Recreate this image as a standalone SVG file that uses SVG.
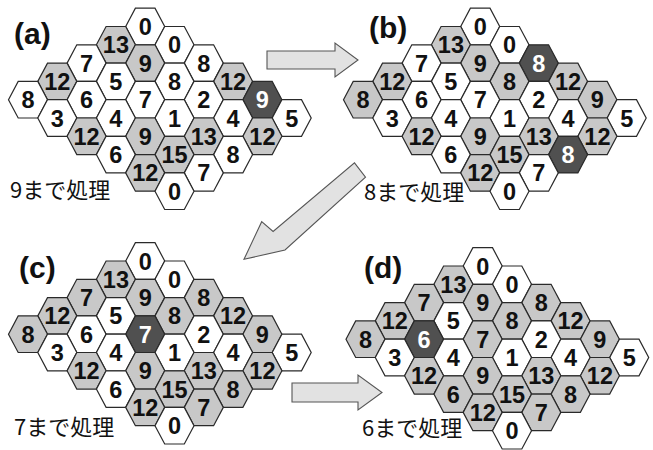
<svg xmlns="http://www.w3.org/2000/svg" xmlns:xlink="http://www.w3.org/1999/xlink" width="653" height="450" viewBox="0 0 653 450">
<style>
.w{fill:#ffffff}.g{fill:#c8c8c8}.d{fill:#505050}
.hx{stroke:#2a2a2a;stroke-width:1.2;stroke-linejoin:miter}
text.n{font-family:"Liberation Sans",Arial,sans-serif;font-weight:bold;font-size:23.5px;text-anchor:middle;fill:#111}
g.dk text.n{fill:#ffffff}
.lab{font-family:"Liberation Sans",Arial,sans-serif;font-weight:bold;font-size:30px;fill:#111}
.cap{font-family:"Noto Sans CJK JP","Noto Sans",sans-serif;font-size:22px;fill:#111}
.arr{fill:#e2e2e2;stroke:#555;stroke-width:1.1;stroke-linejoin:miter}
</style>
<defs>
<polygon id="h" class="hx" points="-19.5,0 -9.8,-18.3 9.8,-18.3 19.5,0 9.8,18.3 -9.8,18.3"/>
</defs>

<g id="connectors">
<polygon class="arr" points="267,51 335,51 335,43 358,60 335,77 335,69 267,69"/>
<polygon class="arr" points="354.5,162.9 365.5,177.1 285,250 244,259.3 261.7,221.7 273.1,231.5"/>
<polygon class="arr" points="292,383 358,383 358,375 382,392.5 358,410 358,402 292,402"/>
</g>

<g id="panel-a">
<text class="lab" x="14" y="44">(a)</text>
<text class="cap" x="10" y="198">9まで処理</text>
<g id="grid-a">
<g id="a-0-4" transform="translate(145.2,26.5)"><use href="#h" class="w"/><text class="n" y="8.5">0</text></g>
<g id="a-1-3" transform="translate(115.9,44.8)"><use href="#h" class="g"/><text class="n" y="8.5">13</text></g>
<g id="a-1-5" transform="translate(174.5,44.8)"><use href="#h" class="w"/><text class="n" y="8.5">0</text></g>
<g id="a-2-2" transform="translate(86.6,63.1)"><use href="#h" class="w"/><text class="n" y="8.5">7</text></g>
<g id="a-2-4" transform="translate(145.2,63.1)"><use href="#h" class="g"/><text class="n" y="8.5">9</text></g>
<g id="a-2-6" transform="translate(203.8,63.1)"><use href="#h" class="w"/><text class="n" y="8.5">8</text></g>
<g id="a-3-1" transform="translate(57.3,81.4)"><use href="#h" class="g"/><text class="n" y="8.5">12</text></g>
<g id="a-3-3" transform="translate(115.9,81.4)"><use href="#h" class="w"/><text class="n" y="8.5">5</text></g>
<g id="a-3-5" transform="translate(174.5,81.4)"><use href="#h" class="w"/><text class="n" y="8.5">8</text></g>
<g id="a-3-7" transform="translate(233.1,81.4)"><use href="#h" class="g"/><text class="n" y="8.5">12</text></g>
<g id="a-4-0" transform="translate(28,99.7)"><use href="#h" class="w"/><text class="n" y="8.5">8</text></g>
<g id="a-4-2" transform="translate(86.6,99.7)"><use href="#h" class="w"/><text class="n" y="8.5">6</text></g>
<g id="a-4-4" transform="translate(145.2,99.7)"><use href="#h" class="w"/><text class="n" y="8.5">7</text></g>
<g id="a-4-6" transform="translate(203.8,99.7)"><use href="#h" class="w"/><text class="n" y="8.5">2</text></g>
<g id="a-4-8" class="dk" transform="translate(262.4,99.7)"><use href="#h" class="d"/><text class="n" y="8.5">9</text></g>
<g id="a-5-1" transform="translate(57.3,118)"><use href="#h" class="w"/><text class="n" y="8.5">3</text></g>
<g id="a-5-3" transform="translate(115.9,118)"><use href="#h" class="w"/><text class="n" y="8.5">4</text></g>
<g id="a-5-5" transform="translate(174.5,118)"><use href="#h" class="w"/><text class="n" y="8.5">1</text></g>
<g id="a-5-7" transform="translate(233.1,118)"><use href="#h" class="w"/><text class="n" y="8.5">4</text></g>
<g id="a-5-9" transform="translate(291.7,118)"><use href="#h" class="w"/><text class="n" y="8.5">5</text></g>
<g id="a-6-2" transform="translate(86.6,136.3)"><use href="#h" class="g"/><text class="n" y="8.5">12</text></g>
<g id="a-6-4" transform="translate(145.2,136.3)"><use href="#h" class="g"/><text class="n" y="8.5">9</text></g>
<g id="a-6-6" transform="translate(203.8,136.3)"><use href="#h" class="g"/><text class="n" y="8.5">13</text></g>
<g id="a-6-8" transform="translate(262.4,136.3)"><use href="#h" class="g"/><text class="n" y="8.5">12</text></g>
<g id="a-7-3" transform="translate(115.9,154.6)"><use href="#h" class="w"/><text class="n" y="8.5">6</text></g>
<g id="a-7-5" transform="translate(174.5,154.6)"><use href="#h" class="g"/><text class="n" y="8.5">15</text></g>
<g id="a-7-7" transform="translate(233.1,154.6)"><use href="#h" class="w"/><text class="n" y="8.5">8</text></g>
<g id="a-8-4" transform="translate(145.2,172.9)"><use href="#h" class="g"/><text class="n" y="8.5">12</text></g>
<g id="a-8-6" transform="translate(203.8,172.9)"><use href="#h" class="w"/><text class="n" y="8.5">7</text></g>
<g id="a-9-5" transform="translate(174.5,191.2)"><use href="#h" class="w"/><text class="n" y="8.5">0</text></g>
</g>
</g>

<g id="panel-b">
<text class="lab" x="369" y="38">(b)</text>
<text class="cap" x="364" y="200">8まで処理</text>
<g id="grid-b" transform="translate(335,0)">
<g id="b-0-4" transform="translate(145.2,26.5)"><use href="#h" class="w"/><text class="n" y="8.5">0</text></g>
<g id="b-1-3" transform="translate(115.9,44.8)"><use href="#h" class="g"/><text class="n" y="8.5">13</text></g>
<g id="b-1-5" transform="translate(174.5,44.8)"><use href="#h" class="w"/><text class="n" y="8.5">0</text></g>
<g id="b-2-2" transform="translate(86.6,63.1)"><use href="#h" class="w"/><text class="n" y="8.5">7</text></g>
<g id="b-2-4" transform="translate(145.2,63.1)"><use href="#h" class="g"/><text class="n" y="8.5">9</text></g>
<g id="b-2-6" class="dk" transform="translate(203.8,63.1)"><use href="#h" class="d"/><text class="n" y="8.5">8</text></g>
<g id="b-3-1" transform="translate(57.3,81.4)"><use href="#h" class="g"/><text class="n" y="8.5">12</text></g>
<g id="b-3-3" transform="translate(115.9,81.4)"><use href="#h" class="w"/><text class="n" y="8.5">5</text></g>
<g id="b-3-5" transform="translate(174.5,81.4)"><use href="#h" class="g"/><text class="n" y="8.5">8</text></g>
<g id="b-3-7" transform="translate(233.1,81.4)"><use href="#h" class="g"/><text class="n" y="8.5">12</text></g>
<g id="b-4-0" transform="translate(28,99.7)"><use href="#h" class="g"/><text class="n" y="8.5">8</text></g>
<g id="b-4-2" transform="translate(86.6,99.7)"><use href="#h" class="w"/><text class="n" y="8.5">6</text></g>
<g id="b-4-4" transform="translate(145.2,99.7)"><use href="#h" class="w"/><text class="n" y="8.5">7</text></g>
<g id="b-4-6" transform="translate(203.8,99.7)"><use href="#h" class="w"/><text class="n" y="8.5">2</text></g>
<g id="b-4-8" transform="translate(262.4,99.7)"><use href="#h" class="g"/><text class="n" y="8.5">9</text></g>
<g id="b-5-1" transform="translate(57.3,118)"><use href="#h" class="w"/><text class="n" y="8.5">3</text></g>
<g id="b-5-3" transform="translate(115.9,118)"><use href="#h" class="w"/><text class="n" y="8.5">4</text></g>
<g id="b-5-5" transform="translate(174.5,118)"><use href="#h" class="w"/><text class="n" y="8.5">1</text></g>
<g id="b-5-7" transform="translate(233.1,118)"><use href="#h" class="w"/><text class="n" y="8.5">4</text></g>
<g id="b-5-9" transform="translate(291.7,118)"><use href="#h" class="w"/><text class="n" y="8.5">5</text></g>
<g id="b-6-2" transform="translate(86.6,136.3)"><use href="#h" class="g"/><text class="n" y="8.5">12</text></g>
<g id="b-6-4" transform="translate(145.2,136.3)"><use href="#h" class="g"/><text class="n" y="8.5">9</text></g>
<g id="b-6-6" transform="translate(203.8,136.3)"><use href="#h" class="g"/><text class="n" y="8.5">13</text></g>
<g id="b-6-8" transform="translate(262.4,136.3)"><use href="#h" class="g"/><text class="n" y="8.5">12</text></g>
<g id="b-7-3" transform="translate(115.9,154.6)"><use href="#h" class="w"/><text class="n" y="8.5">6</text></g>
<g id="b-7-5" transform="translate(174.5,154.6)"><use href="#h" class="g"/><text class="n" y="8.5">15</text></g>
<g id="b-7-7" class="dk" transform="translate(233.1,154.6)"><use href="#h" class="d"/><text class="n" y="8.5">8</text></g>
<g id="b-8-4" transform="translate(145.2,172.9)"><use href="#h" class="g"/><text class="n" y="8.5">12</text></g>
<g id="b-8-6" transform="translate(203.8,172.9)"><use href="#h" class="w"/><text class="n" y="8.5">7</text></g>
<g id="b-9-5" transform="translate(174.5,191.2)"><use href="#h" class="w"/><text class="n" y="8.5">0</text></g>
</g>
</g>

<g id="panel-c">
<text class="lab" x="19" y="278">(c)</text>
<text class="cap" x="14" y="435">7まで処理</text>
<g id="grid-c" transform="translate(0,234.5)">
<g id="c-0-4" transform="translate(145.2,26.5)"><use href="#h" class="w"/><text class="n" y="8.5">0</text></g>
<g id="c-1-3" transform="translate(115.9,44.8)"><use href="#h" class="g"/><text class="n" y="8.5">13</text></g>
<g id="c-1-5" transform="translate(174.5,44.8)"><use href="#h" class="w"/><text class="n" y="8.5">0</text></g>
<g id="c-2-2" transform="translate(86.6,63.1)"><use href="#h" class="g"/><text class="n" y="8.5">7</text></g>
<g id="c-2-4" transform="translate(145.2,63.1)"><use href="#h" class="g"/><text class="n" y="8.5">9</text></g>
<g id="c-2-6" transform="translate(203.8,63.1)"><use href="#h" class="g"/><text class="n" y="8.5">8</text></g>
<g id="c-3-1" transform="translate(57.3,81.4)"><use href="#h" class="g"/><text class="n" y="8.5">12</text></g>
<g id="c-3-3" transform="translate(115.9,81.4)"><use href="#h" class="w"/><text class="n" y="8.5">5</text></g>
<g id="c-3-5" transform="translate(174.5,81.4)"><use href="#h" class="g"/><text class="n" y="8.5">8</text></g>
<g id="c-3-7" transform="translate(233.1,81.4)"><use href="#h" class="g"/><text class="n" y="8.5">12</text></g>
<g id="c-4-0" transform="translate(28,99.7)"><use href="#h" class="g"/><text class="n" y="8.5">8</text></g>
<g id="c-4-2" transform="translate(86.6,99.7)"><use href="#h" class="w"/><text class="n" y="8.5">6</text></g>
<g id="c-4-4" class="dk" transform="translate(145.2,99.7)"><use href="#h" class="d"/><text class="n" y="8.5">7</text></g>
<g id="c-4-6" transform="translate(203.8,99.7)"><use href="#h" class="w"/><text class="n" y="8.5">2</text></g>
<g id="c-4-8" transform="translate(262.4,99.7)"><use href="#h" class="g"/><text class="n" y="8.5">9</text></g>
<g id="c-5-1" transform="translate(57.3,118)"><use href="#h" class="w"/><text class="n" y="8.5">3</text></g>
<g id="c-5-3" transform="translate(115.9,118)"><use href="#h" class="w"/><text class="n" y="8.5">4</text></g>
<g id="c-5-5" transform="translate(174.5,118)"><use href="#h" class="w"/><text class="n" y="8.5">1</text></g>
<g id="c-5-7" transform="translate(233.1,118)"><use href="#h" class="w"/><text class="n" y="8.5">4</text></g>
<g id="c-5-9" transform="translate(291.7,118)"><use href="#h" class="w"/><text class="n" y="8.5">5</text></g>
<g id="c-6-2" transform="translate(86.6,136.3)"><use href="#h" class="g"/><text class="n" y="8.5">12</text></g>
<g id="c-6-4" transform="translate(145.2,136.3)"><use href="#h" class="g"/><text class="n" y="8.5">9</text></g>
<g id="c-6-6" transform="translate(203.8,136.3)"><use href="#h" class="g"/><text class="n" y="8.5">13</text></g>
<g id="c-6-8" transform="translate(262.4,136.3)"><use href="#h" class="g"/><text class="n" y="8.5">12</text></g>
<g id="c-7-3" transform="translate(115.9,154.6)"><use href="#h" class="w"/><text class="n" y="8.5">6</text></g>
<g id="c-7-5" transform="translate(174.5,154.6)"><use href="#h" class="g"/><text class="n" y="8.5">15</text></g>
<g id="c-7-7" transform="translate(233.1,154.6)"><use href="#h" class="g"/><text class="n" y="8.5">8</text></g>
<g id="c-8-4" transform="translate(145.2,172.9)"><use href="#h" class="g"/><text class="n" y="8.5">12</text></g>
<g id="c-8-6" transform="translate(203.8,172.9)"><use href="#h" class="g"/><text class="n" y="8.5">7</text></g>
<g id="c-9-5" transform="translate(174.5,191.2)"><use href="#h" class="w"/><text class="n" y="8.5">0</text></g>
</g>
</g>

<g id="panel-d">
<text class="lab" x="364" y="278">(d)</text>
<text class="cap" x="362" y="436">6まで処理</text>
<g id="grid-d" transform="translate(337.5,239.5)">
<g id="d-0-4" transform="translate(145.2,26.5)"><use href="#h" class="w"/><text class="n" y="8.5">0</text></g>
<g id="d-1-3" transform="translate(115.9,44.8)"><use href="#h" class="g"/><text class="n" y="8.5">13</text></g>
<g id="d-1-5" transform="translate(174.5,44.8)"><use href="#h" class="w"/><text class="n" y="8.5">0</text></g>
<g id="d-2-2" transform="translate(86.6,63.1)"><use href="#h" class="g"/><text class="n" y="8.5">7</text></g>
<g id="d-2-4" transform="translate(145.2,63.1)"><use href="#h" class="g"/><text class="n" y="8.5">9</text></g>
<g id="d-2-6" transform="translate(203.8,63.1)"><use href="#h" class="g"/><text class="n" y="8.5">8</text></g>
<g id="d-3-1" transform="translate(57.3,81.4)"><use href="#h" class="g"/><text class="n" y="8.5">12</text></g>
<g id="d-3-3" transform="translate(115.9,81.4)"><use href="#h" class="w"/><text class="n" y="8.5">5</text></g>
<g id="d-3-5" transform="translate(174.5,81.4)"><use href="#h" class="g"/><text class="n" y="8.5">8</text></g>
<g id="d-3-7" transform="translate(233.1,81.4)"><use href="#h" class="g"/><text class="n" y="8.5">12</text></g>
<g id="d-4-0" transform="translate(28,99.7)"><use href="#h" class="g"/><text class="n" y="8.5">8</text></g>
<g id="d-4-2" class="dk" transform="translate(86.6,99.7)"><use href="#h" class="d"/><text class="n" y="8.5">6</text></g>
<g id="d-4-4" transform="translate(145.2,99.7)"><use href="#h" class="g"/><text class="n" y="8.5">7</text></g>
<g id="d-4-6" transform="translate(203.8,99.7)"><use href="#h" class="w"/><text class="n" y="8.5">2</text></g>
<g id="d-4-8" transform="translate(262.4,99.7)"><use href="#h" class="g"/><text class="n" y="8.5">9</text></g>
<g id="d-5-1" transform="translate(57.3,118)"><use href="#h" class="w"/><text class="n" y="8.5">3</text></g>
<g id="d-5-3" transform="translate(115.9,118)"><use href="#h" class="w"/><text class="n" y="8.5">4</text></g>
<g id="d-5-5" transform="translate(174.5,118)"><use href="#h" class="w"/><text class="n" y="8.5">1</text></g>
<g id="d-5-7" transform="translate(233.1,118)"><use href="#h" class="w"/><text class="n" y="8.5">4</text></g>
<g id="d-5-9" transform="translate(291.7,118)"><use href="#h" class="w"/><text class="n" y="8.5">5</text></g>
<g id="d-6-2" transform="translate(86.6,136.3)"><use href="#h" class="g"/><text class="n" y="8.5">12</text></g>
<g id="d-6-4" transform="translate(145.2,136.3)"><use href="#h" class="g"/><text class="n" y="8.5">9</text></g>
<g id="d-6-6" transform="translate(203.8,136.3)"><use href="#h" class="g"/><text class="n" y="8.5">13</text></g>
<g id="d-6-8" transform="translate(262.4,136.3)"><use href="#h" class="g"/><text class="n" y="8.5">12</text></g>
<g id="d-7-3" transform="translate(115.9,154.6)"><use href="#h" class="g"/><text class="n" y="8.5">6</text></g>
<g id="d-7-5" transform="translate(174.5,154.6)"><use href="#h" class="g"/><text class="n" y="8.5">15</text></g>
<g id="d-7-7" transform="translate(233.1,154.6)"><use href="#h" class="g"/><text class="n" y="8.5">8</text></g>
<g id="d-8-4" transform="translate(145.2,172.9)"><use href="#h" class="g"/><text class="n" y="8.5">12</text></g>
<g id="d-8-6" transform="translate(203.8,172.9)"><use href="#h" class="g"/><text class="n" y="8.5">7</text></g>
<g id="d-9-5" transform="translate(174.5,191.2)"><use href="#h" class="w"/><text class="n" y="8.5">0</text></g>
</g>
</g>
</svg>
